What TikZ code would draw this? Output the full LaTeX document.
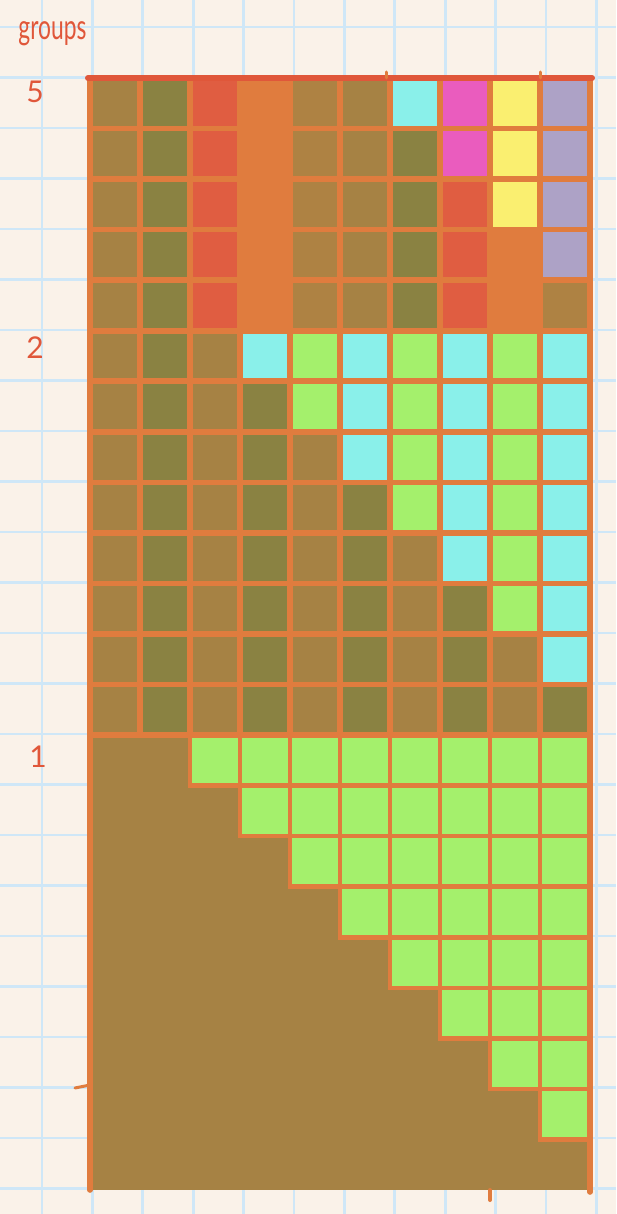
\documentclass[tikz,border=0pt]{standalone}
\usepackage{fontspec}
\setmainfont{Lato}
\definecolor{paper}{HTML}{FAF2E9}
\definecolor{bluegrid}{HTML}{CFE7F7}
\definecolor{gridor}{HTML}{E07C3E}
\definecolor{topred}{HTML}{E0573A}
\definecolor{cB}{HTML}{A68244}
\definecolor{cBb}{HTML}{AE8243}
\definecolor{cO}{HTML}{8A8242}
\definecolor{cR}{HTML}{E05D41}
\definecolor{cOr}{HTML}{E07C3E}
\definecolor{cC}{HTML}{8AF0EA}
\definecolor{cG}{HTML}{A4F06C}
\definecolor{cM}{HTML}{EA5CBE}
\definecolor{cY}{HTML}{FAEF70}
\definecolor{cL}{HTML}{ADA2C6}
\newcommand\mycell[3]{\fill[#3] ({90+50*(#1)},{78+50.545*(#2)}) rectangle ++(50,50.545);}
\begin{document}
\begin{tikzpicture}[x=0.5pt,y=-0.5pt,
  gridline/.style={gridor, line width=2.8pt, line cap=round},
  thinline/.style={gridor, line width=2.3pt, line cap=round},
  paperline/.style={bluegrid, line width=1.4pt},
  lab/.style={text=topred, inner sep=0pt}]
\useasboundingbox (0,0) rectangle (616,1214);
\fill[paper] (0,0) rectangle (616,1214);
% paper grid
\foreach \i in {0,...,11} \draw[paperline] ({42+50.4*\i},0) -- ({42+50.4*\i},1214);
\foreach \j in {0,...,23} \draw[paperline] (0,{27+50.5*\j}) -- (616,{27+50.5*\j});
% section "5"
\foreach [count=\c from 0] \colist in {
  {cB,cB,cB,cB,cB},{cO,cO,cO,cO,cO},{cR,cR,cR,cR,cR},{cOr,cOr,cOr,cOr,cOr},
  {cBb,cBb,cBb,cBb,cBb},{cB,cB,cB,cB,cB},{cC,cO,cO,cO,cO},{cM,cM,cR,cR,cR},
  {cY,cY,cY,cOr,cOr},{cL,cL,cL,cL,cBb}}{
  \foreach [count=\r from 0] \cc in \colist {\mycell{\c}{\r}{\cc}}
}
% section "2"
\foreach \k in {0,...,7}{
  \foreach \c in {0,...,9}{
    \ifnum\c<\numexpr\k+3\relax
      \ifodd\c \mycell{\c}{5+\k}{cO}\else \mycell{\c}{5+\k}{cB}\fi
    \else
      \ifodd\c \mycell{\c}{5+\k}{cC}\else \mycell{\c}{5+\k}{cG}\fi
    \fi
  }
}
% section "1"
\fill[cB] (90,{78+50.545*13}) rectangle (590,1190);
\foreach \k in {0,...,7}{
  \foreach \c in {0,...,9}{
    \ifnum\c<\numexpr\k+2\relax\else
      \fill[cG] ({90+50*\c},{78+50.545*(13+\k)}) rectangle ++(50,50.545);
    \fi
  }
}
% grid lines, sections 5 and 2
\foreach \i in {0,...,10} \draw[gridline] ({90+50*\i},78) -- ({90+50*\i},{78+50.545*13});
\foreach \j in {1,...,13} \draw[gridline] (90,{78+50.545*\j}) -- (590,{78+50.545*\j});
% grid lines, section 1 (only around green cells)
\foreach \k in {0,...,7}{
  \foreach \c in {0,...,9}{
    \ifnum\c<\numexpr\k+2\relax\else
      \draw[thinline] ({90+50*\c},{78+50.545*(13+\k)}) rectangle ++(50,50.545);
    \fi
  }
}
\draw[gridline] (90,{78+50.545*13}) -- (90,1190);
\draw[gridline] (590,{78+50.545*13}) -- (590,1192);
% top edge
\draw[topred, line width=3pt, line cap=round] (88,78) -- (592,78);
% stray strokes
\draw[gridline, line width=1.5pt] (540,72) -- (540,78);
\draw[gridline, line width=1.5pt] (386,72) -- (386,78);
\draw[gridline, line width=2pt] (490,1190) -- (490,1200);
\draw[gridline, line width=1.5pt] (75,1088) -- (90,1085);
% labels
\node[lab, anchor=base west] (groups) at (18,40) {\fontsize{12}{12}\selectfont\scalebox{0.95}[1.45]{groups}};
\node[lab, font=\fontsize{15}{15}\selectfont, anchor=base] (g5) at (35,103) {5};
\node[lab, font=\fontsize{15}{15}\selectfont, anchor=base] (g2) at (35,358) {2};
\node[lab, font=\fontsize{15}{15}\selectfont, anchor=base] (g1) at (38,767) {1};
\end{tikzpicture}
\end{document}
